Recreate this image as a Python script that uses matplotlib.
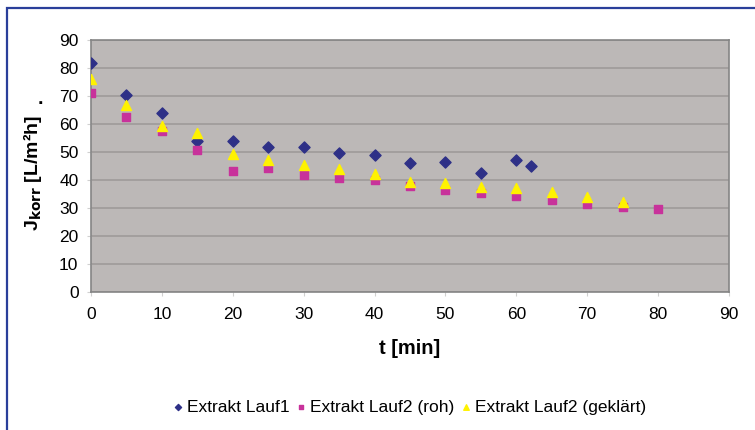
import matplotlib.pyplot as plt
from matplotlib.patches import Rectangle

plt.rcParams['font.family'] = ['Liberation Sans', 'DejaVu Sans']

# Messwerte: Flux ueber der Zeit
t_lauf1 = [0, 5, 10, 15, 20, 25, 30, 35, 40, 45, 50, 55, 60, 62]
j_lauf1 = [81.7, 70.4, 63.8, 54.0, 54.0, 51.9, 51.9, 49.5, 49.0, 46.0, 46.5, 42.6, 47.0, 45.0]

t_lauf2 = [0, 5, 10, 15, 20, 25, 30, 35, 40, 45, 50, 55, 60, 65, 70, 75, 80]
j_lauf2_roh = [70.9, 62.6, 57.5, 50.7, 43.3, 44.2, 41.8, 40.8, 40.0, 37.9, 36.4,
               35.5, 34.3, 32.9, 31.3, 30.5, 29.5]

t_lauf2_gekl = [0, 5, 10, 15, 20, 25, 30, 35, 40, 45, 50, 55, 60, 65, 70, 75]
j_lauf2_gekl = [76.0, 66.8, 59.3, 56.7, 49.3, 47.1, 45.4, 43.9, 42.1, 39.4, 38.8,
                37.4, 37.0, 35.8, 33.8, 32.3]

x_ticks = list(range(0, 91, 10))
y_ticks = list(range(0, 91, 10))

fig = plt.figure(figsize=(7.55, 4.30), dpi=100)
ax = fig.add_axes([91 / 755, 1 - 292 / 430, (729 - 91) / 755, (292 - 40) / 430])

# blauer Rahmen um das Diagramm
fig.patches.append(Rectangle((7 / 755, -0.05), 1.2, 1 - 8 / 430 + 0.05,
                             transform=fig.transFigure, fill=False,
                             edgecolor='#2a3f9a', linewidth=1.6))

ax.set_facecolor('#bcb8b7')
for s in ax.spines.values():
    s.set_color('#858585')
    s.set_linewidth(1.2)

ax.grid(axis='y', color='#9e9a99', linewidth=1.2)
ax.set_axisbelow(True)

ax.scatter(t_lauf1, j_lauf1, marker='D', s=32, color='#2e3087', zorder=3,
           label='Extrakt Lauf1')
ax.scatter(t_lauf2, j_lauf2_roh, marker='s', s=38, color='#c8329b', zorder=3,
           label='Extrakt Lauf2 (roh)')
ax.scatter(t_lauf2_gekl, j_lauf2_gekl, marker='^', s=52, color='#fff200', zorder=4,
           label='Extrakt Lauf2 (geklärt)')

ax.set_xlim(0, 90)
ax.set_ylim(0, 90)
ax.set_xticks(x_ticks)
ax.set_yticks(y_ticks)
ax.tick_params(labelsize=12.5, length=3, color='#d0d0d0', pad=8)
ax.tick_params(axis='y', pad=6)

ax.set_xlabel('t [min]', fontsize=14.5, fontweight='bold', labelpad=12)
ax.set_ylabel(r'J$_{\mathbf{korr}}$ [L/m²h]', fontsize=14, fontweight='bold', labelpad=12)
ax.yaxis.set_label_coords(-0.073, 0.47)
fig.text(40 / 755, 1 - 100 / 430, '.', fontsize=14, fontweight='bold',
         ha='center', va='center')

fig.legend(loc='center', bbox_to_anchor=(0.54, 1 - 407 / 430), ncol=3,
           frameon=False, fontsize=12.5, handletextpad=0.0, columnspacing=0.2,
           markerscale=0.55, handlelength=1.0)

fig.savefig('out.png', dpi=100)
